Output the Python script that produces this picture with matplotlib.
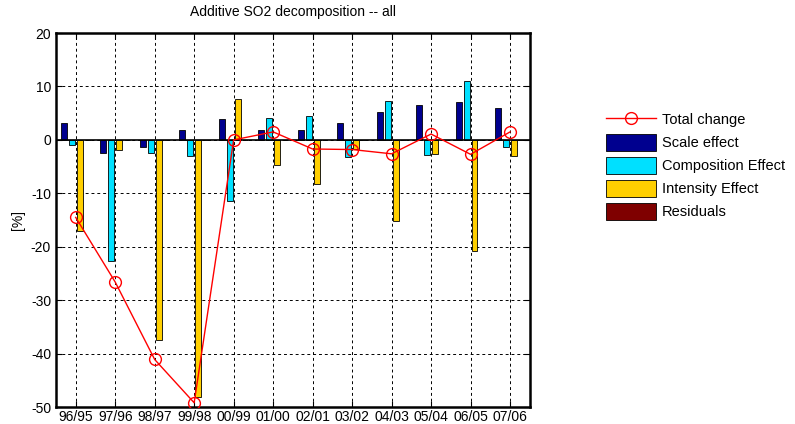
import numpy as np
import matplotlib.pyplot as plt

plt.rcParams['font.family'] = ['Liberation Sans', 'DejaVu Sans']
plt.rcParams['axes.unicode_minus'] = False

# data
periods = ['96/95', '97/96', '98/97', '99/98', '00/99', '01/00',
           '02/01', '03/02', '04/03', '05/04', '06/05', '07/06']
scale = [3.1, -2.4, -1.4, 1.9, 3.9, 1.9, 1.9, 3.1, 5.2, 6.5, 7.1, 5.9]
composition = [-1.0, -22.7, -2.4, -3.1, -11.4, 4.1, 4.5, -3.2, 7.2, -2.9, 11.1, -1.4]
intensity = [-17.0, -1.9, -37.4, -48.2, 7.6, -4.7, -8.2, -1.7, -15.1, -2.7, -20.7, -3.0]
residuals = [0.05, 0.05, 0.05, 0.05, 0.05, 0.05, 0.05, 0.05, 0.05, 0.05, 0.05, 0.05]
total = [-14.5, -26.6, -41.1, -49.2, 0.0, 1.5, -1.7, -1.8, -2.6, 1.1, -2.7, 1.5]


def main():
    fig = plt.figure(figsize=(7.95, 4.24), dpi=100)
    ax = fig.add_axes([0.0704, 0.040, 0.596, 0.882])

    x = np.arange(1, len(periods) + 1)
    w = 0.15
    series = [(scale, '#00008f', 'Scale effect'),
              (composition, '#00e0ff', 'Composition Effect'),
              (intensity, '#ffcf00', 'Intensity Effect'),
              (residuals, '#7f0000', 'Residuals')]
    handles = []
    for i, (vals, col, lab) in enumerate(series):
        b = ax.bar(x + (i - 1.5) * 0.2, vals, width=w, color=col,
                   edgecolor='black', linewidth=0.6, label=lab, zorder=3)
        handles.append(b)

    ln, = ax.plot(x, total, '-o', color='red', mfc='none', ms=8.5, lw=1,
                  label='Total change', zorder=4)
    ax.axhline(0, color='black', lw=1.2, zorder=3.5)

    ax.set_xlim(0.5, 12.5)
    ax.set_ylim(-50, 20)
    ax.set_xticks(x)
    ax.set_xticklabels(periods)
    ax.set_yticks(range(-50, 21, 10))
    ax.tick_params(direction='in', labelsize=10, top=True, right=True, length=4)
    ax.tick_params(axis='x', pad=2)
    ax.grid(True, color='black', linestyle=(0, (3, 3)), linewidth=0.7, zorder=0)
    for s in ax.spines.values():
        s.set_linewidth(1.8)
    ax.set_ylabel('[%]', fontsize=10)
    ax.set_title('Additive SO2 decomposition -- all', fontsize=10, pad=12)

    fig.legend([ln] + handles,
               ['Total change'] + [s[2] for s in series],
               loc='upper left', bbox_to_anchor=(0.755, 0.752),
               frameon=False, fontsize=10.5, handlelength=3.4,
               handleheight=1.4, labelspacing=0.42, handletextpad=0.45,
               borderaxespad=0)

    fig.savefig('out.png', dpi=100)


if __name__ == "__main__":
    main()
